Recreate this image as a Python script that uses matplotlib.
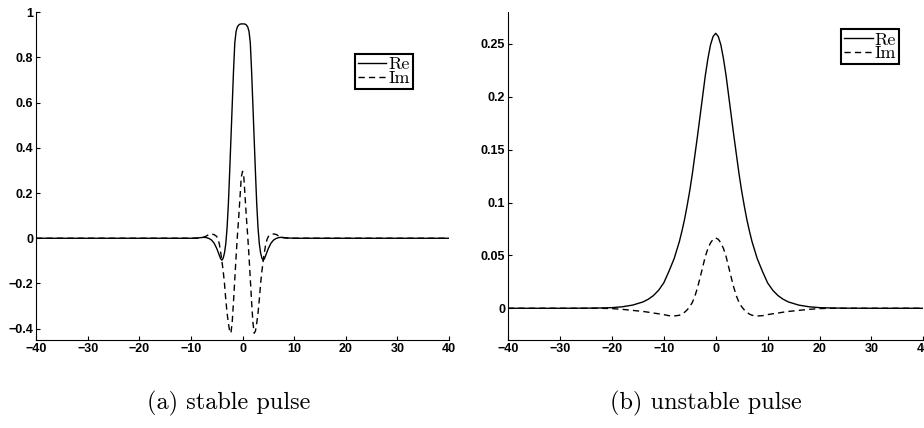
import matplotlib
matplotlib.use("Agg")
import matplotlib.pyplot as plt
from matplotlib.ticker import FuncFormatter
from matplotlib.font_manager import FontProperties

# stable pulse (symmetric about 0)
xs_half = [0, 0.25, 0.5, 0.75, 1, 1.25, 1.5, 1.75, 2, 2.25, 2.5, 2.75, 3, 3.25, 3.5, 3.75,
           4, 4.25, 4.5, 4.75, 5, 5.5, 6, 6.5, 7, 7.5, 8, 9, 10, 15, 20, 30, 40]
stable_re_half = [0.948, 0.948, 0.947, 0.943, 0.935, 0.915, 0.865, 0.74, 0.59, 0.44, 0.29,
                  0.15, 0.045, -0.025, -0.065, -0.088, -0.097, -0.09, -0.075, -0.06, -0.045,
                  -0.022, -0.008, -0.001, 0.003, 0.004, 0.003, 0.001, 0.0, 0.0, 0.0, 0.0, 0.0]
stable_im_half = [0.296, 0.27, 0.18, 0.09, 0.01, -0.08, -0.18, -0.28, -0.37, -0.42, -0.41,
                  -0.375, -0.33, -0.27, -0.2, -0.145, -0.1, -0.06, -0.025, -0.005, 0.008,
                  0.016, 0.019, 0.017, 0.01, 0.005, 0.002, 0.0, 0.0, 0.0, 0.0, 0.0, 0.0]

# unstable pulse (symmetric about 0)
xu_half = [0, 0.5, 1, 1.5, 2, 2.5, 3, 3.5, 4, 4.5, 5, 5.5, 6, 6.5, 7, 8, 9, 10, 11, 12,
           13, 14, 16, 18, 20, 22, 25, 30, 40]
unstable_re_half = [0.26, 0.257, 0.249, 0.236, 0.22, 0.201, 0.182, 0.163, 0.145, 0.127,
                    0.111, 0.097, 0.084, 0.073, 0.063, 0.047, 0.035, 0.024, 0.017, 0.012,
                    0.0085, 0.006, 0.003, 0.0014, 0.0006, 0.0003, 0.0001, 0.0, 0.0]
unstable_im_half = [0.0665, 0.0652, 0.0618, 0.0565, 0.049, 0.039, 0.029, 0.0195, 0.0115,
                    0.0055, 0.0015, -0.0015, -0.0038, -0.0055, -0.0066, -0.0073, -0.007,
                    -0.006, -0.0052, -0.0045, -0.0037, -0.003, -0.002, -0.001, -0.0003, 0.0,
                    0.0, 0.0, 0.0]

captions = ["(a) stable pulse", "(b) unstable pulse"]


def mirror(xh, yh):
    """build full symmetric curve from the half given"""
    x = [-v for v in xh[::-1]] + xh[1:]
    y = yh[::-1] + yh[1:]
    return x, y


def fmt(v, pos):
    s = "%g" % round(v, 3)
    return s.replace("-", "\u2212")


tickfont = FontProperties(family="Liberation Sans", weight="bold", size=9)


def style(ax, yticks, ylim):
    ax.set_xlim(-40, 40)
    ax.set_ylim(*ylim)
    ax.set_xticks(range(-40, 41, 10))
    ax.set_yticks(yticks)
    ax.xaxis.set_major_formatter(FuncFormatter(fmt))
    ax.yaxis.set_major_formatter(FuncFormatter(fmt))
    for lab in ax.get_xticklabels() + ax.get_yticklabels():
        lab.set_fontproperties(tickfont)
    ax.spines["top"].set_visible(False)
    ax.spines["right"].set_visible(False)
    ax.tick_params(direction="in", length=3, width=0.8, pad=2)


fig = plt.figure(figsize=(9.24, 4.28), dpi=100)
ax1 = fig.add_axes([0.039, 0.2056, 0.447, 0.766])
ax2 = fig.add_axes([0.5498, 0.2056, 0.4495, 0.766])

x, y = mirror(xs_half, stable_re_half)
ax1.plot(x, y, "k-", lw=1, label="Re")
x, y = mirror(xs_half, stable_im_half)
ax1.plot(x, y, "k--", lw=1, dashes=(4.5, 3), label="Im")
style(ax1, [-0.4, -0.2, 0, 0.2, 0.4, 0.6, 0.8, 1], (-0.45, 1))

x, y = mirror(xu_half, unstable_re_half)
ax2.plot(x, y, "k-", lw=1, label="Re")
x, y = mirror(xu_half, unstable_im_half)
ax2.plot(x, y, "k--", lw=1, dashes=(4.5, 3), label="Im")
style(ax2, [0, 0.05, 0.1, 0.15, 0.2, 0.25], (-0.03, 0.28))

for ax, anchor in [(ax1, (0.772, 0.872)), (ax2, (0.802, 0.948))]:
    leg = ax.legend(loc="upper left", bbox_to_anchor=anchor, prop=dict(family="cmr10", size=13),
                    handlelength=1.6, handletextpad=0.1, borderpad=0.15, labelspacing=-0.12,
                    borderaxespad=0, fancybox=False, framealpha=1)
    leg.get_frame().set_edgecolor("black")
    leg.get_frame().set_linewidth(1.5)

fig.text(229 / 924, 1 - 403 / 428, captions[0], ha="center", va="center", family="cmr10", size=17.5)
fig.text(706 / 924, 1 - 403 / 428, captions[1], ha="center", va="center", family="cmr10", size=17.5)

fig.savefig("out.png", dpi=100)
